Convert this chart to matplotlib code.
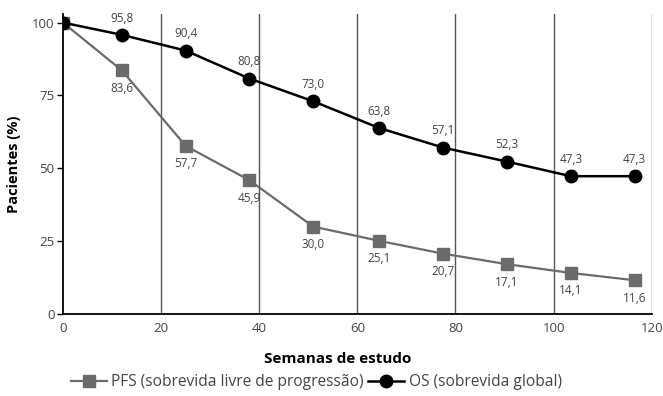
import matplotlib
matplotlib.use('Agg')
import matplotlib.pyplot as plt

plt.rcParams['font.family'] = ['Open Sans', 'DejaVu Sans']

# study weeks and survival percentages
semanas = [0, 12, 25, 38, 51, 64.5, 77.5, 90.5, 103.5, 116.5]
pfs = [100, 83.6, 57.7, 45.9, 30.0, 25.1, 20.7, 17.1, 14.1, 11.6]
os_global = [100, 95.8, 90.4, 80.8, 73.0, 63.8, 57.1, 52.3, 47.3, 47.3]

x_ticks = [0, 20, 40, 60, 80, 100, 120]
y_ticks = [0, 25, 50, 75, 100]

PFS_COLOR = '#6b6b6b'
TXT_COLOR = '#444444'


def fmt(v):
    return '{:.1f}'.format(v).replace('.', ',')


fig = plt.figure(figsize=(6.63, 3.96), dpi=100)
ax = fig.add_axes([0.095, 0.207, 0.888, 0.758])

# vertical grid lines
for gx in x_ticks[1:]:
    ax.axvline(gx, color='#555555', lw=1.0, zorder=1)

ax.plot(semanas, pfs, color=PFS_COLOR, lw=1.6, marker='s', ms=8.5,
        label='PFS (sobrevida livre de progressão)', zorder=3)
ax.plot(semanas, os_global, color='black', lw=1.8, marker='o', ms=9,
        label='OS (sobrevida global)', zorder=4)

# value labels: OS above, PFS below
for x, v in zip(semanas[1:], os_global[1:]):
    ax.annotate(fmt(v), (x, v), xytext=(0, 12), textcoords='offset points',
                ha='center', va='center', fontsize=8.5, color=TXT_COLOR)
for x, v in zip(semanas[1:], pfs[1:]):
    ax.annotate(fmt(v), (x, v), xytext=(0, -13), textcoords='offset points',
                ha='center', va='center', fontsize=8.5, color=TXT_COLOR)

ax.set_xlim(0, 120)
ax.set_ylim(0, 103)
ax.set_xticks(x_ticks)
ax.set_yticks(y_ticks)
ax.tick_params(axis='x', length=0, pad=6, labelsize=9.5, labelcolor=TXT_COLOR)
ax.tick_params(axis='y', length=4, width=1, pad=2, labelsize=9.5, labelcolor=TXT_COLOR)

for side in ['top', 'right']:
    ax.spines[side].set_visible(False)
for side in ['left', 'bottom']:
    ax.spines[side].set_color('black')
    ax.spines[side].set_linewidth(1.3)

ax.set_xlabel('Semanas de estudo', fontsize=11, fontweight='bold')
ax.xaxis.set_label_coords(0.467, -0.125)
ax.set_ylabel('Pacientes (%)', fontsize=10.5, fontweight='bold', labelpad=8)

fig.legend(loc='center', bbox_to_anchor=(0.477, 0.035), ncol=2, frameon=False,
           fontsize=11.2, handlelength=2.3, handletextpad=0.3, columnspacing=0.3,
           labelcolor=TXT_COLOR)

fig.savefig('out.png', dpi=100)
